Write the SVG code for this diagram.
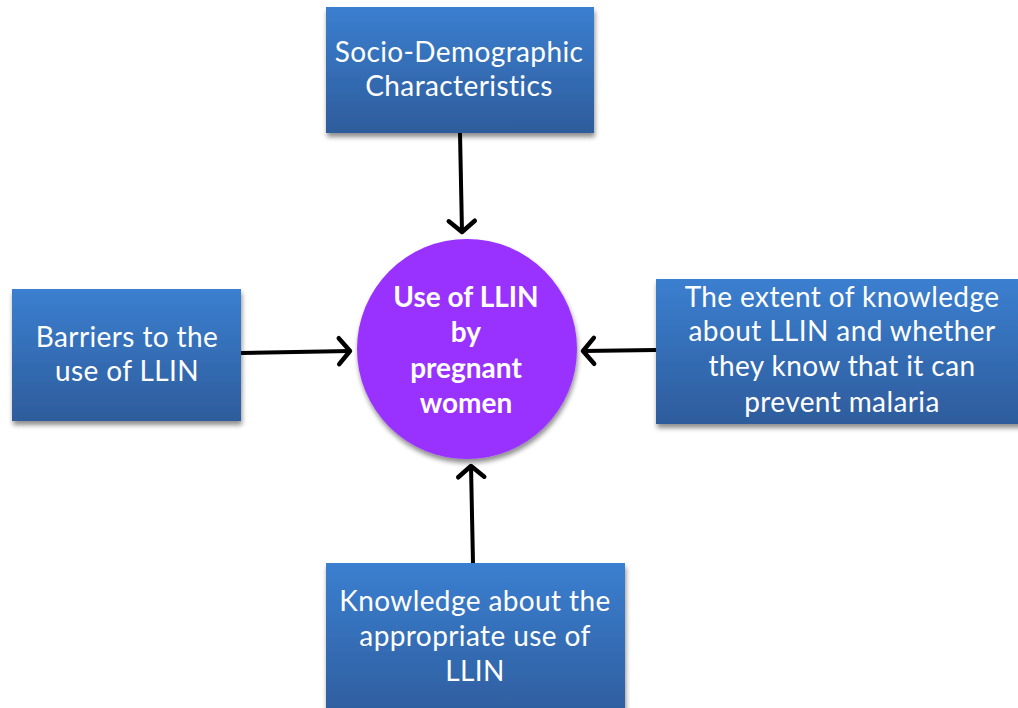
<svg xmlns="http://www.w3.org/2000/svg" width="1018" height="708" viewBox="0 0 1018 708">
<style>
.box{fill:url(#bg);filter:url(#sh)}
.bt{font-family:Lato,"Open Sans","Liberation Sans",sans-serif;font-size:28px;letter-spacing:0.4px;fill:#fff;text-anchor:middle}
.ct{font-family:Lato,"Open Sans","Liberation Sans",sans-serif;font-size:28px;font-weight:bold;fill:#fff;text-anchor:middle}
.con{stroke:#000;stroke-width:4;fill:none;marker-end:url(#ah)}
</style>
<defs>
<linearGradient id="bg" x1="0" y1="0" x2="0" y2="1">
<stop offset="0" stop-color="#3b7fd0"/>
<stop offset="1" stop-color="#2e5c9c"/>
</linearGradient>
<filter id="sh" x="-10%" y="-10%" width="130%" height="130%">
<feGaussianBlur in="SourceAlpha" stdDeviation="2.5"/>
<feOffset dx="1" dy="4" result="b"/>
<feComponentTransfer><feFuncA type="linear" slope="0.45"/></feComponentTransfer>
<feMerge><feMergeNode/><feMergeNode in="SourceGraphic"/></feMerge>
</filter>
<marker id="ah" markerWidth="8" markerHeight="8" refX="6" refY="4" orient="auto" markerUnits="userSpaceOnUse" overflow="visible">
<path d="M-5,-9 L6,4 L-5,17" fill="none" stroke="#000" stroke-width="4.5" stroke-linecap="round" stroke-linejoin="round"/>
</marker>
</defs>
<g id="connectors">
<line class="con" x1="460" y1="133" x2="462" y2="232"/>
<line class="con" x1="241" y1="353" x2="350" y2="351"/>
<line class="con" x1="656" y1="350" x2="583" y2="351"/>
<line class="con" x1="473" y1="563" x2="471" y2="466"/>
</g>
<g id="center">
<circle cx="467" cy="349" r="110" fill="#9933ff" filter="url(#sh)"/>
<text class="ct" x="466" y="307">Use of LLIN</text>
<text class="ct" x="466" y="342">by</text>
<text class="ct" x="466" y="378">pregnant</text>
<text class="ct" x="466" y="413">women</text>
</g>
<g id="top">
<rect class="box" x="326" y="7" width="268" height="126"/>
<text class="bt" x="459" y="62">Socio-Demographic</text>
<text class="bt" x="459" y="96">Characteristics</text>
</g>
<g id="left">
<rect class="box" x="12" y="289" width="229" height="132"/>
<text class="bt" x="127" y="347">Barriers to the</text>
<text class="bt" x="127" y="381">use of LLIN</text>
</g>
<g id="right">
<rect class="box" x="656" y="279" width="370" height="145"/>
<text class="bt" x="842" y="307">The extent of knowledge</text>
<text class="bt" x="842" y="341">about LLIN and whether</text>
<text class="bt" x="842" y="376">they know that it can</text>
<text class="bt" x="842" y="412">prevent malaria</text>
</g>
<g id="bottom">
<rect class="box" x="326" y="563" width="299" height="160"/>
<text class="bt" x="475" y="611">Knowledge about the</text>
<text class="bt" x="475" y="646">appropriate use of</text>
<text class="bt" x="475" y="681">LLIN</text>
</g>
</svg>
